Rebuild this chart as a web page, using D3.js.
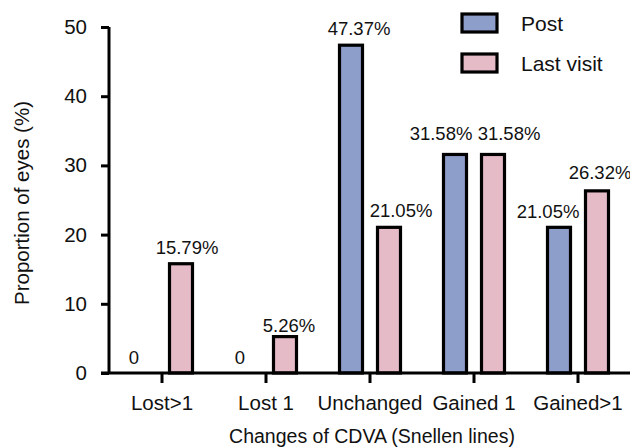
<!DOCTYPE html>
<html>
<head>
<meta charset="utf-8">
<script src="https://cdn.jsdelivr.net/npm/d3@7"></script>
<style>
  html, body { margin: 0; padding: 0; background: #fff; }
  svg { display: block; font-family: "Liberation Sans", Arial, sans-serif; }
</style>
</head>
<body>
<svg id="chart" width="630" height="448"></svg>
<script>
const categories = ["Lost>1", "Lost 1", "Unchanged", "Gained 1", "Gained>1"];
const seriesNames = ["Post", "Last visit"];
const postValues = [0, 0, 47.37, 31.58, 21.05];
const lastVisitValues = [15.79, 5.26, 21.05, 31.58, 26.32];
const valueLabels = [
  ["0", "15.79%"],
  ["0", "5.26%"],
  ["47.37%", "21.05%"],
  ["31.58%", "31.58%"],
  ["21.05%", "26.32%"],
];
const yTicks = [0, 10, 20, 30, 40, 50];

// hand nudges for value labels, [dx, gap above bar]
const labelNudge = [
  [[-9, 9], [6, 10]],
  [[-7, 9], [4, 5]],
  [[8, 10], [12, 10]],
  [[-14, 14], [16, 14]],
  [[-11, 9], [3, 12]],
];

const colors = ["#8e9ecb", "#e5bbc8"];
const svg = d3.select("#chart");

const x0 = d3.scaleBand().domain(categories).range([110, 630]);
const x1 = d3.scaleBand().domain(seriesNames).range([-32, 32]).paddingInner(12 / 38);
const y = d3.scaleLinear().domain([0, 50]).range([373, 27]);

const rows = [];
categories.forEach((c, i) => {
  [postValues[i], lastVisitValues[i]].forEach((v, j) => {
    rows.push({ cat: c, series: seriesNames[j], value: v, label: valueLabels[i][j], nudge: labelNudge[i][j], idx: j });
  });
});

const center = (c) => x0(c) + x0.bandwidth() / 2;

// bars
svg.append("g")
  .selectAll("rect")
  .data(rows.filter((d) => d.value > 0))
  .join("rect")
  .attr("x", (d) => center(d.cat) + x1(d.series) + 1.5)
  .attr("y", (d) => y(d.value))
  .attr("width", x1.bandwidth() - 3)
  .attr("height", (d) => y(0) - y(d.value))
  .attr("fill", (d) => colors[d.idx])
  .attr("stroke", "#000")
  .attr("stroke-width", 3.2);

// value labels
svg.append("g")
  .selectAll("text")
  .data(rows)
  .join("text")
  .attr("x", (d) => center(d.cat) + x1(d.series) + x1.bandwidth() / 2 + d.nudge[0])
  .attr("y", (d) => y(d.value) - d.nudge[1])
  .attr("text-anchor", "middle")
  .attr("font-size", 18.5)
  .attr("fill", "#111")
  .text((d) => d.label);

// y axis
const yAxis = svg.append("g")
  .attr("transform", "translate(109,0)")
  .call(d3.axisLeft(y).tickValues(yTicks).tickSize(8).tickPadding(14));
yAxis.select(".domain").attr("stroke-width", 3).attr("d", `M0,${y(50)}V${y(0)}`);
yAxis.selectAll(".tick line").attr("stroke-width", 3);
yAxis.selectAll(".tick text")
  .attr("font-size", 20.5)
  .attr("font-family", "Liberation Sans, Arial, sans-serif")
  .attr("fill", "#111");

// x axis
const xAxis = svg.append("g")
  .attr("transform", `translate(0,${y(0)})`)
  .call(d3.axisBottom(x0).tickSize(10).tickPadding(12));
xAxis.select(".domain").attr("stroke-width", 3).attr("d", "M101,0H630");
xAxis.selectAll(".tick line").attr("stroke-width", 3);
xAxis.selectAll(".tick text")
  .attr("font-size", 20.5)
  .attr("font-family", "Liberation Sans, Arial, sans-serif")
  .attr("fill", "#111");

// axis titles
svg.append("text")
  .attr("x", 372)
  .attr("y", 443)
  .attr("text-anchor", "middle")
  .attr("font-size", 19.5)
  .attr("fill", "#111")
  .text("Changes of CDVA (Snellen lines)");

svg.append("text")
  .attr("transform", "translate(29,203) rotate(-90)")
  .attr("text-anchor", "middle")
  .attr("font-size", 20.5)
  .attr("fill", "#111")
  .text("Proportion of eyes (%)");

// legend
const legend = svg.append("g")
  .selectAll("g")
  .data(seriesNames)
  .join("g")
  .attr("transform", (d, i) => `translate(462,${14 + i * 40})`);
legend.append("rect")
  .attr("width", 35)
  .attr("height", 18)
  .attr("fill", (d, i) => colors[i])
  .attr("stroke", "#000")
  .attr("stroke-width", 3.2);
legend.append("text")
  .attr("x", 59)
  .attr("y", 17)
  .attr("font-size", 21)
  .attr("fill", "#111")
  .text((d) => d);
</script>
</body>
</html>
